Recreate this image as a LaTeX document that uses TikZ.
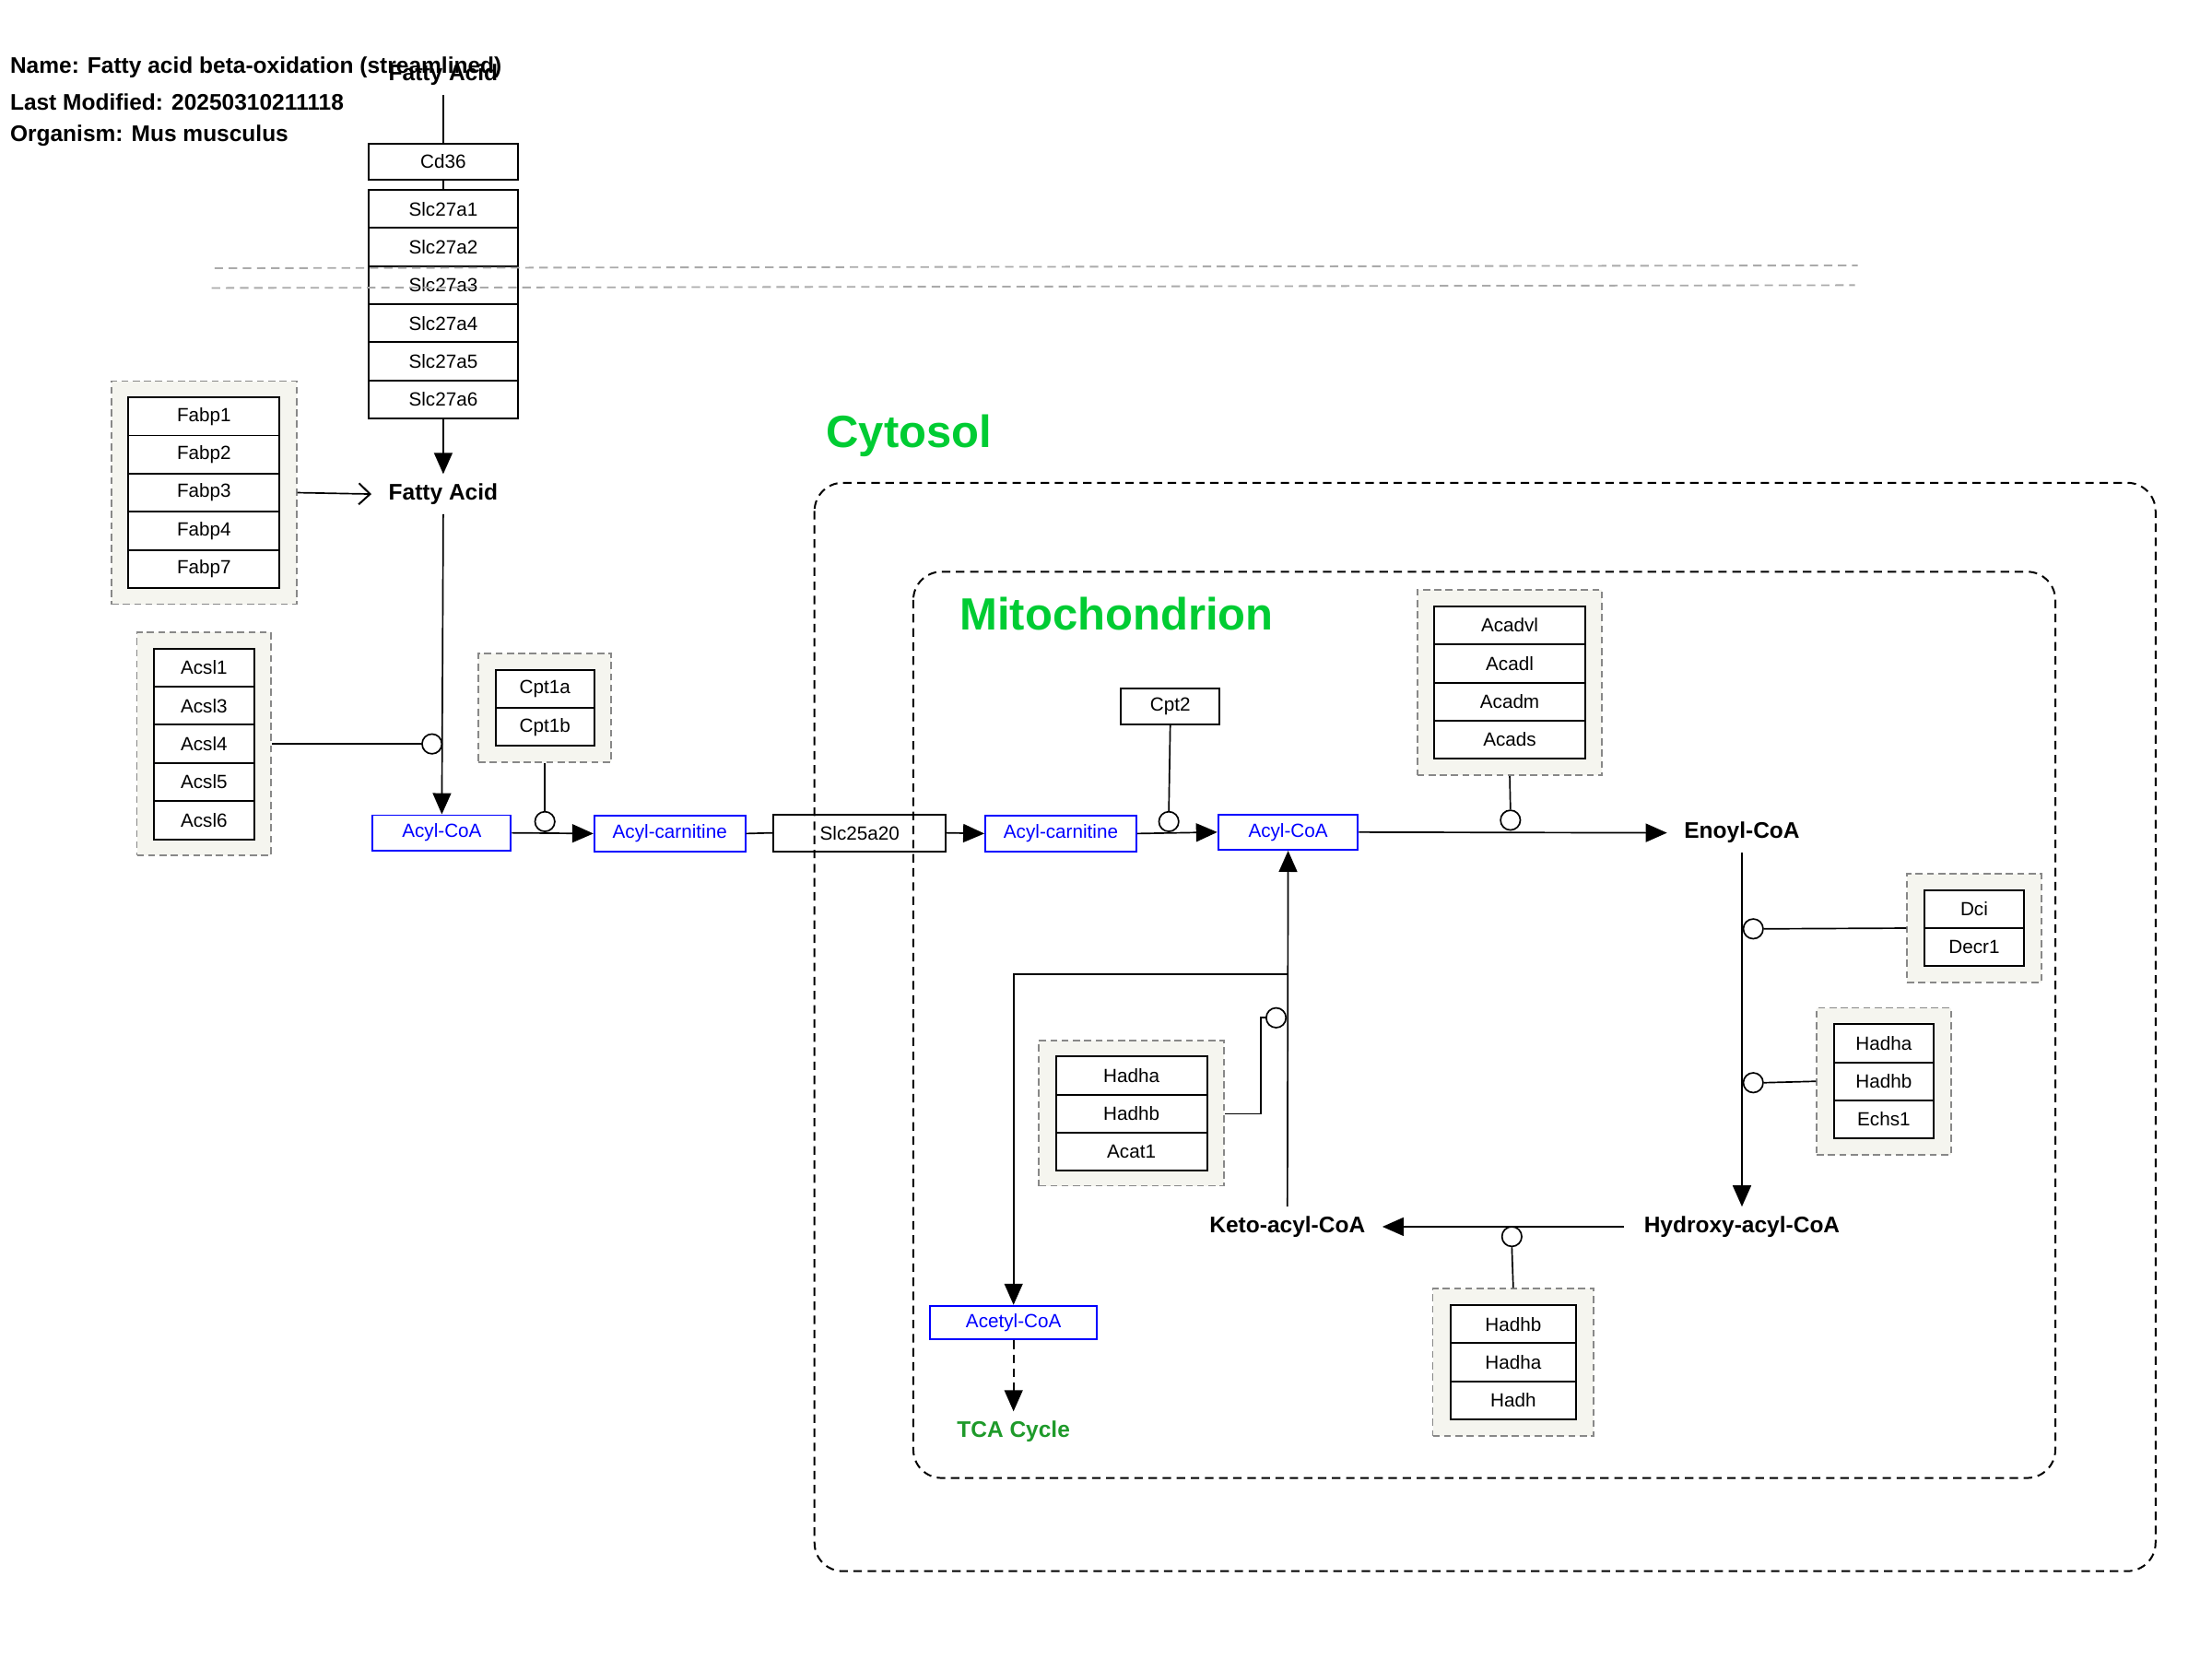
\documentclass[tikz,border=0pt]{standalone}
\usepackage{fontspec}
\setmainfont{Liberation Sans}
\usetikzlibrary{arrows.meta}
\definecolor{grpfill}{HTML}{F5F5EF}
\definecolor{grpline}{HTML}{888888}
\definecolor{compgreen}{HTML}{00CC33}
\definecolor{tcagreen}{HTML}{1E9A2A}
\definecolor{memgray}{HTML}{AAAAAA}
\tikzset{
  gene/.style={draw=black, fill=white, line width=1.3pt, inner sep=0pt,
    minimum height=27pt, font=\fontsize{13.5}{16}\selectfont},
  metab/.style={draw=blue, fill=white, text=blue, line width=1.3pt, inner sep=0pt,
    minimum height=25pt, font=\fontsize{13.5}{16}\selectfont},
  boldlab/.style={inner xsep=12pt, inner ysep=0pt, minimum height=28pt,
    font=\fontsize{16}{19}\selectfont\bfseries},
  grp/.style={draw=grpline, fill=grpfill, dash pattern=on 5pt off 3pt, line width=1.2pt},
  comp/.style={draw=black, dash pattern=on 6pt off 4pt, line width=1.3pt, rounded corners=20pt},
  memb/.style={draw=memgray, dash pattern=on 6pt off 4pt, line width=1.2pt},
  edge/.style={draw=black, line width=1.1pt},
  arr/.style={edge, -{Triangle[length=15pt,width=13pt]}},
  dasharr/.style={arr, dash pattern=on 6pt off 4pt},
  openarr/.style={edge, -{Straight Barb[length=8pt,width=15pt,line width=1.3pt]}},
  mod/.style={circle, draw=black, fill=white, line width=1.1pt, minimum size=14pt, inner sep=0pt},
  hdr/.style={anchor=west, inner sep=0pt, font=\fontsize{16}{19}\selectfont\bfseries},
}
\begin{document}
\begin{tikzpicture}[x=1pt,y=-1pt]
\useasboundingbox[fill=white] (0,0) rectangle (1567,1175);

% header
\node[hdr] (h1) at (7,48) {Name: Fatty acid beta-oxidation (streamlined)};
\node[hdr] (h2) at (7,72) {Last Modified: 20250310211118};
\node[hdr] (h3) at (7,96) {Organism: Mus musculus};

% groups (backgrounds)
\node[grp, minimum width=131pt, minimum height=158pt] (gFabp) at (144.5,349) {};
\node[grp, minimum width=95pt, minimum height=158pt] (gAcsl) at (144.5,527) {};
\node[grp, minimum width=94pt, minimum height=77pt] (gCpt1) at (386,501.5) {};
\node[grp, minimum width=131pt, minimum height=131pt] (gAcad) at (1069.5,483.5) {};
\node[grp, minimum width=95pt, minimum height=77pt] (gDci) at (1398.5,657.5) {};
\node[grp, minimum width=95pt, minimum height=104pt] (gHad1) at (1334.5,766) {};
\node[grp, minimum width=131pt, minimum height=103pt] (gHad2) at (801.5,788.5) {};
\node[grp, minimum width=114pt, minimum height=104pt] (gHad3) at (1072,965) {};

% transport column
\node[boldlab] (fatop) at (314,53) {Fatty Acid};
\node[gene, minimum width=106pt, minimum height=25pt] (cd36) at (314,114.5) {Cd36};
\node[gene, minimum width=106pt] (s1) at (314,148) {Slc27a1};
\node[gene, minimum width=106pt] (s2) at (314,175) {Slc27a2};
\node[gene, minimum width=106pt] (s3) at (314,202) {Slc27a3};
\node[gene, minimum width=106pt] (s4) at (314,229) {Slc27a4};
\node[gene, minimum width=106pt] (s5) at (314,256) {Slc27a5};
\node[gene, minimum width=106pt] (s6) at (314,283) {Slc27a6};
\node[boldlab] (fa) at (314,350) {Fatty Acid};

% Fabp
\node[gene, minimum width=107pt] (fabp1) at (144.5,295) {Fabp1};
\node[gene, minimum width=107pt] (fabp2) at (144.5,322) {Fabp2};
\node[gene, minimum width=107pt] (fabp3) at (144.5,349) {Fabp3};
\node[gene, minimum width=107pt] (fabp4) at (144.5,376) {Fabp4};
\node[gene, minimum width=107pt] (fabp7) at (144.5,403) {Fabp7};

% Acsl
\node[gene, minimum width=71pt] (acsl1) at (144.5,473) {Acsl1};
\node[gene, minimum width=71pt] (acsl3) at (144.5,500) {Acsl3};
\node[gene, minimum width=71pt] (acsl4) at (144.5,527) {Acsl4};
\node[gene, minimum width=71pt] (acsl5) at (144.5,554) {Acsl5};
\node[gene, minimum width=71pt] (acsl6) at (144.5,581) {Acsl6};

% Cpt1
\node[gene, minimum width=70pt] (cpt1a) at (386,488) {Cpt1a};
\node[gene, minimum width=70pt] (cpt1b) at (386,515) {Cpt1b};

% main chain
\node[metab, minimum width=98pt] (acoa1) at (313,590) {Acyl-CoA};
\node[metab, minimum width=107pt] (acar1) at (474.5,590.5) {Acyl-carnitine};
\node[gene, minimum width=122pt, minimum height=26pt] (slc25) at (609,590) {Slc25a20};
\node[metab, minimum width=107pt] (acar2) at (751.5,590.5) {Acyl-carnitine};
\node[gene, minimum width=70pt, minimum height=25pt] (cpt2) at (829,500.5) {Cpt2};
\node[metab, minimum width=99pt] (acoa2) at (912.5,589.5) {Acyl-CoA};
\node[boldlab] (enoyl) at (1234,590) {Enoyl-CoA};
\node[boldlab, inner xsep=14pt] (hydroxy) at (1234,869) {Hydroxy-acyl-CoA};
\node[boldlab] (keto) at (912,869) {Keto-acyl-CoA};
\node[metab, minimum width=118pt, minimum height=24pt] (acetyl) at (718,937) {Acetyl-CoA};
\node[boldlab, text=tcagreen] (tca) at (718,1014) {TCA Cycle};

% Acad
\node[gene, minimum width=107pt] (acadvl) at (1069.5,443) {Acadvl};
\node[gene, minimum width=107pt] (acadl) at (1069.5,470) {Acadl};
\node[gene, minimum width=107pt] (acadm) at (1069.5,497) {Acadm};
\node[gene, minimum width=107pt] (acads) at (1069.5,524) {Acads};

% Dci
\node[gene, minimum width=71pt] (dci) at (1398.5,644) {Dci};
\node[gene, minimum width=71pt] (decr1) at (1398.5,671) {Decr1};

% Hadha group 1
\node[gene, minimum width=71pt] (had1a) at (1334.5,739) {Hadha};
\node[gene, minimum width=71pt] (had1b) at (1334.5,766) {Hadhb};
\node[gene, minimum width=71pt] (echs1) at (1334.5,793) {Echs1};

% Hadha group 2
\node[gene, minimum width=107pt] (had2a) at (801.5,762) {Hadha};
\node[gene, minimum width=107pt] (had2b) at (801.5,789) {Hadhb};
\node[gene, minimum width=107pt] (acat1) at (801.5,816) {Acat1};

% Hadhb group 3
\node[gene, minimum width=89pt] (had3b) at (1072,938) {Hadhb};
\node[gene, minimum width=89pt] (had3a) at (1072,965) {Hadha};
\node[gene, minimum width=89pt] (hadh) at (1072,992) {Hadh};

% connectors
\draw[edge] (fatop.south) -- (cd36.north);
\draw[edge] (cd36.south) -- (s1.north);
\draw[arr] (s6.south) -- (fa.north);
\draw[openarr] (gFabp.east) -- (fa.west);
\draw[arr] (fa.south) -- (acoa1.north);
\draw[arr] (acoa1.east) -- (acar1.west);
\draw[edge] (acar1.east) -- (slc25.west);
\draw[arr] (slc25.east) -- (acar2.west);
\draw[arr] (acar2.east) -- (acoa2.west);
\draw[arr] (acoa2.east) -- (enoyl.west);
\draw[arr] (enoyl.south) -- (hydroxy.north);
\draw[arr] (hydroxy.west) -- (keto.east);
\draw[arr] (keto.north) -- (acoa2.south);
\coordinate (br) at (912,690);
\coordinate (brl) at (718,690);
\draw[arr] (br) -- (brl) -- (acetyl.north);
\draw[dasharr] (acetyl.south) -- (tca.north);

% modifiers
\node[mod] (m1) at (306,527) {};
\draw[edge] (gAcsl.east |- m1) -- (m1.west);
\node[mod] (m2) at (386,582) {};
\draw[edge] (gCpt1.south) -- (m2.north);
\node[mod] (m3) at (828,582) {};
\draw[edge] (cpt2.south) -- (m3.north);
\node[mod] (m4) at (1070,581) {};
\draw[edge] (gAcad.south) -- (m4.north);
\node[mod] (m5) at (1242,658) {};
\draw[edge] (gDci.west) -- (m5.east);
\node[mod] (m6) at (1242,767) {};
\draw[edge] (gHad1.west) -- (m6.east);
\node[mod] (m7) at (1071,876) {};
\draw[edge] (gHad3.north) -- (m7.south);
\node[mod] (m8) at (904,721) {};
\coordinate (k1) at (893,789);
\coordinate (k2) at (893,721);
\draw[edge] (gHad2.east |- k1) -- (k1) -- (k2) -- (m8.west);

% compartments and membrane (drawn on top)
\draw[comp] (577,342) rectangle (1527,1113);
\draw[comp] (647,405) rectangle (1456,1047);
\node[text=compgreen, font=\fontsize{32}{38}\selectfont\bfseries, inner sep=0pt] (cyto) at (644,309) {Cytosol};
\node[text=compgreen, font=\fontsize{32}{38}\selectfont\bfseries, inner sep=0pt] (mito) at (791,435) {Mitochondrion};
\coordinate (ma1) at (152,190);
\coordinate (mb1) at (1316,188);
\coordinate (ma2) at (150,204);
\coordinate (mb2) at (1314,202);
\draw[memb] (ma1) -- (mb1);
\draw[memb] (ma2) -- (mb2);
\end{tikzpicture}
\end{document}
